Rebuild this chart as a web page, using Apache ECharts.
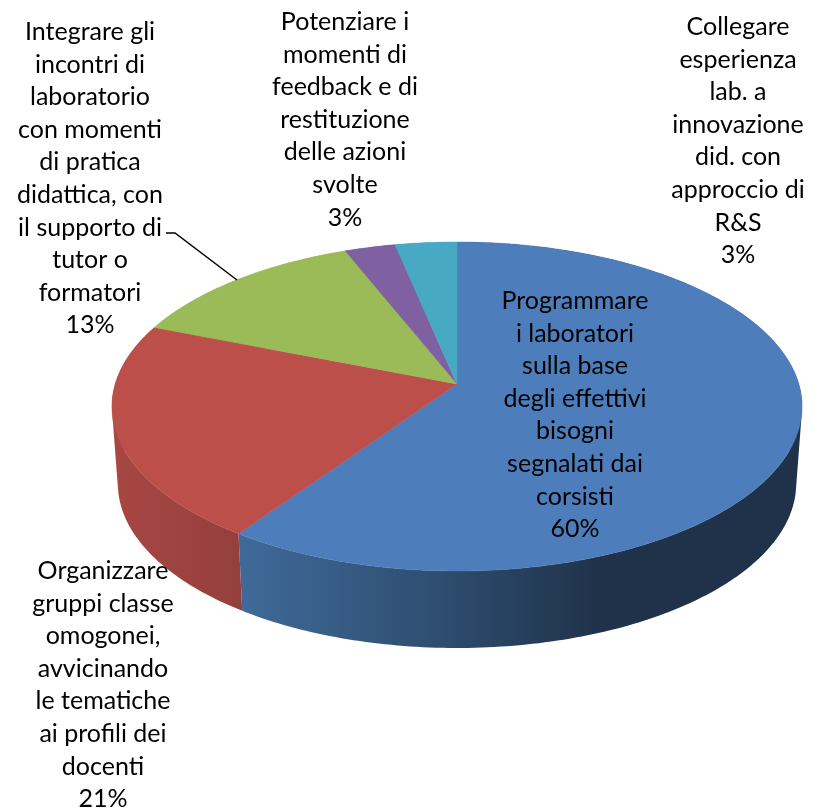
<!DOCTYPE html>
<html>
<head>
<meta charset="utf-8">
<style>
html, body { margin: 0; padding: 0; background: #fff; }
#main { width: 814px; height: 810px; }
</style>
<script src="https://cdn.jsdelivr.net/npm/echarts@6/dist/echarts.min.js"></script>
</head>
<body>
<div id="main"></div>
<script>
// slices go clockwise from 12 o'clock
var categories = [
    'Programmare\ni laboratori\nsulla base\ndegli effettivi\nbisogni\nsegnalati dai\ncorsisti',
    'Organizzare\ngruppi classe\nomogonei,\navvicinando\nle tematiche\nai profili dei\ndocenti',
    'Integrare gli\nincontri di\nlaboratorio\ncon momenti\ndi pratica\ndidattica, con\nil supporto di\ntutor o\nformatori',
    'Potenziare i\nmomenti di\nfeedback e di\nrestituzione\ndelle azioni\nsvolte',
    'Collegare\nesperienza\nlab. a\ninnovazione\ndid. con\napproccio di\nR&S'
];
var shares = [59.6, 21.4, 13.0, 2.7, 3.3];

var topColors = ['#4d7ebb', '#bd4f4b', '#9bbb59', '#7f60a0', '#47a9c4'];

// where each text block starts (first line centre)
var labelPos = [[575, 301], [103, 571], [90, 32], [345, 22], [738, 27]];
var lineGap = 32.6;

// projected disc, centre is off the ellipse middle because of the perspective
var cx = 457, cy = 384, rx = 341.8, ry = 161.4, persp = 0.1368;
var depth = 77, bottomScale = 0.983;

var total = shares.reduce(function (a, b) { return a + b; }, 0);

function startOf(i) {
    var s = 0;
    for (var k = 0; k < i; k++) s += shares[k];
    return s;
}

function rimPoint(theta) {
    var u = Math.sin(theta), v = -Math.cos(theta), w = 1 - persp * v;
    return [cx + rx * u / w, cy + ry * v / w];
}

function arcPoints(value0, value1) {
    var a0 = value0 / total * Math.PI * 2, a1 = value1 / total * Math.PI * 2;
    var n = Math.max(4, Math.ceil((a1 - a0) * 60));
    var pts = [];
    for (var i = 0; i <= n; i++) pts.push(rimPoint(a0 + (a1 - a0) * i / n));
    return pts;
}

function wallFill(i) {
    if (i === 0) {
        return new echarts.graphic.LinearGradient(244, 0, 600, 0, [
            { offset: 0, color: '#3f6998' },
            { offset: 0.55, color: '#2e4d70' },
            { offset: 1, color: '#20324a' }
        ], true);
    }
    if (i === 1) {
        return new echarts.graphic.LinearGradient(112, 0, 244, 0, [
            { offset: 0, color: '#a84744' },
            { offset: 1, color: '#943f3b' }
        ], true);
    }
    return topColors[i];
}

function quadPath(q) {
    var area = 0;
    for (var k = 0; k < 4; k++) {
        var a = q[k], b = q[(k + 1) % 4];
        area += a[0] * b[1] - b[0] * a[1];
    }
    if (area < 0) q = q.slice().reverse();
    return 'M' + q.map(function (p) { return p[0].toFixed(2) + ' ' + p[1].toFixed(2); }).join('L') + 'Z';
}

// wall is swept as quads in one path, same winding, so no seams and the sides stay straight
function renderWall(params, api) {
    var i = params.dataIndex;
    var s = startOf(i);
    var top = arcPoints(s, s + api.value(0));
    function lower(p) {
        return [cx + (p[0] - cx) * bottomScale, p[1] + depth];
    }
    var d = '';
    for (var k = 0; k < top.length - 1; k++) {
        d += quadPath([top[k], top[k + 1], lower(top[k + 1]), lower(top[k])]);
    }
    return {
        type: 'path',
        shape: { pathData: d },
        style: { fill: wallFill(i) }
    };
}

function renderTop(params, api) {
    var i = params.dataIndex;
    var s = startOf(i);
    var pts = arcPoints(s, s + api.value(0));
    pts.push([cx, cy]);
    return {
        type: 'polygon',
        shape: { points: pts },
        style: { fill: topColors[i], stroke: topColors[i], lineWidth: 0.5 }
    };
}

function renderLabel(params, api) {
    var i = params.dataIndex;
    var pct = Math.round(api.value(0) / total * 100) + '%';
    return {
        type: 'text',
        style: {
            text: categories[i] + '\n' + pct,
            x: labelPos[i][0],
            y: labelPos[i][1] - lineGap / 2,
            align: 'center',
            verticalAlign: 'top',
            lineHeight: lineGap,
            font: '25px Lato',
            fill: '#000'
        }
    };
}

var sliceData = shares.map(function (v, i) {
    return { value: [v], name: categories[i] };
});

var myChart = echarts.init(document.getElementById('main'));
var option = {
    animation: false,
    backgroundColor: '#fff',
    graphic: [{
        type: 'polyline',
        z: 20,
        shape: { points: [[166, 233], [175, 233], [237, 280]] },
        style: { stroke: '#000', lineWidth: 1.5, fill: null }
    }],
    series: [
        { type: 'custom', coordinateSystem: 'none', renderItem: renderWall, data: sliceData, z: 1, silent: true },
        { type: 'custom', coordinateSystem: 'none', renderItem: renderTop, data: sliceData, z: 2, silent: true },
        { type: 'custom', coordinateSystem: 'none', renderItem: renderLabel, data: sliceData, z: 3, silent: true }
    ]
};
myChart.setOption(option);
</script>
</body>
</html>
